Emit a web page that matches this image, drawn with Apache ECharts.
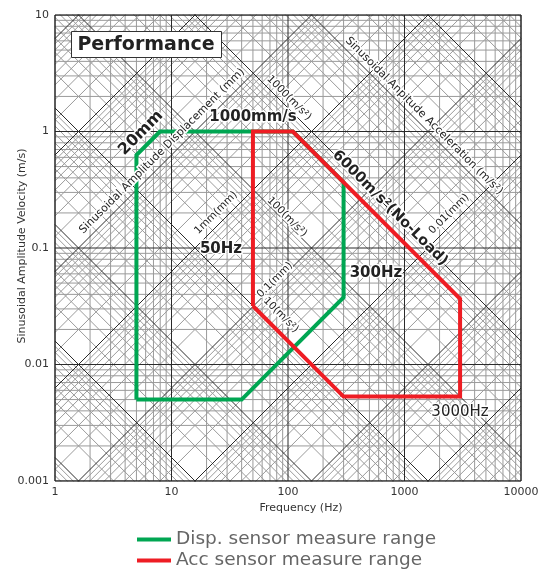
<!DOCTYPE html>
<html><head><meta charset="utf-8">
<script src="https://cdn.jsdelivr.net/npm/echarts@6/dist/echarts.min.js"></script>
<style>html,body{margin:0;padding:0;background:#fff}#main{width:547px;height:569px}</style>
</head><body><div id="main"></div>
<script>
// ---- data ----
const freqTickValues = [1, 10, 100, 1000, 10000];
const freqTickLabels = ['1', '10', '100', '1000', '10000'];
const velTickValues = [0.001, 0.01, 0.1, 1, 10];
const velTickLabels = ['0.001', '0.01', '0.1', '1', '10'];

// Disp. sensor measure range polygon (Hz, m/s)
const dispFreq = [5, 40, 300, 300, 110, 50, 7.96, 5, 5];
const dispVel  = [0.005, 0.005, 0.0377, 0.367, 1, 1, 1, 0.628, 0.005];
// Acc sensor measure range polygon (Hz, m/s)
const accFreq = [50, 50, 110, 3000, 3000, 300, 50];
const accVel  = [0.0318, 1, 1, 0.0367, 0.0053, 0.0053, 0.0318];

const seriesNames = ['Disp. sensor measure range', 'Acc sensor measure range'];

// annotation anchors (Hz, m/s)
const noteText = ['Sinusoidal Amplitude Displacement (mm)', 'Sinusoidal Anpitude Acceleration (m/s²)',
  '1000(m/s²)', '100(m/s²)', '10(m/s²)', '0.1(mm)', '1mm(mm)', '0.01(mm)',
  '20mm', '1000mm/s', '6000m/s²(No-Load)', '50Hz', '300Hz', '3000Hz'];
const noteFreq = [8.29, 1469, 102, 98, 87, 77.3, 24.1, 2410, 5.47, 50.1, 751, 26.6, 569, 2995];
const noteVel  = [0.68, 1.36, 1.94, 0.1846, 0.0266, 0.0531, 0.2, 0.196, 0.97, 1.33, 0.22, 0.098, 0.061, 0.00391];

// ---- styles ----
const FONT = '"DejaVu Sans", sans-serif';
const GREEN = '#00a652', RED = '#ee1d24';
const noteStyle = [
  {size: 11, weight: 'normal', rot: 45},
  {size: 11, weight: 'normal', rot: -45},
  {size: 10.5, weight: 'normal', rot: -45},
  {size: 10.5, weight: 'normal', rot: -45},
  {size: 10.5, weight: 'normal', rot: -45},
  {size: 10.5, weight: 'normal', rot: 45},
  {size: 10.5, weight: 'normal', rot: 45},
  {size: 10.5, weight: 'normal', rot: 45},
  {size: 16, weight: 'bold', rot: 45},
  {size: 15, weight: 'bold', rot: 0},
  {size: 14.5, weight: 'bold', rot: -45},
  {size: 15, weight: 'bold', rot: 0},
  {size: 15, weight: 'bold', rot: 0},
  {size: 15, weight: 'normal', rot: 0}
];

const FMIN = 1, FMAX = 10000, VMIN = 0.001, VMAX = 10;
const series = [];
function gridLine(pts, color, z) {
  series.push({type: 'line', data: pts, symbol: 'none', silent: true, clip: true, z: z,
    lineStyle: {color: color, width: 1}, animation: false, legendHoverLink: false});
}
const GRAY = '#9a9a9a', DARK = '#2a2a2a';
// gray vertical / horizontal
for (let k = 0; k < 4; k++) for (let m = 2; m <= 9; m++) {
  const f = m * Math.pow(10, k);
  gridLine([[f, VMIN], [f, VMAX]], GRAY, 1);
}
for (let k = -3; k < 1; k++) for (let m = 2; m <= 9; m++) {
  const v = m * Math.pow(10, k);
  gridLine([[FMIN, v], [FMAX, v]], GRAY, 1);
}
// diagonals: displacement d (m): v = 2*pi*f*d ; acceleration a: v = a/(2*pi*f)
const TP = 2 * Math.PI;
for (let pass = 0; pass < 2; pass++) {
  for (let k = -9; k <= 0; k++) for (let m = 1; m <= 9; m++) {
    if ((m === 1) !== (pass === 1)) continue;
    const d = m * Math.pow(10, k);
    gridLine([[FMIN, TP * FMIN * d], [FMAX, TP * FMAX * d]], pass ? DARK : GRAY, pass ? 3 : 2);
  }
  for (let k = -3; k <= 5; k++) for (let m = 1; m <= 9; m++) {
    if ((m === 1) !== (pass === 1)) continue;
    const a = m * Math.pow(10, k);
    gridLine([[FMIN, a / (TP * FMIN)], [FMAX, a / (TP * FMAX)]], pass ? DARK : GRAY, pass ? 3 : 2);
  }
}
// decade lines
for (const f of freqTickValues) gridLine([[f, VMIN], [f, VMAX]], DARK, 3);
for (const v of velTickValues) gridLine([[FMIN, v], [FMAX, v]], DARK, 3);

series.push({name: seriesNames[0], type: 'line', data: dispFreq.map((f, i) => [f, dispVel[i]]),
  symbol: 'none', z: 5, color: GREEN, lineStyle: {color: GREEN, width: 4, join: 'miter'}, animation: false});
series.push({name: seriesNames[1], type: 'line', data: accFreq.map((f, i) => [f, accVel[i]]),
  symbol: 'none', z: 6, color: RED, lineStyle: {color: RED, width: 4, join: 'miter'}, animation: false});

function lbl(list, values) {
  return function (v) {
    const e = Math.round(Math.log10(v));
    const i = values.findIndex(t => Math.round(Math.log10(t)) === e);
    return i >= 0 ? list[i] : '';
  };
}

const chart = echarts.init(document.getElementById('main'), null, {renderer: 'canvas'});
chart.setOption({
  animation: false,
  backgroundColor: '#fff',
  grid: {left: 55, top: 15, width: 466, height: 466, containLabel: false, outerBoundsMode: 'none',
    show: true, borderColor: '#222', borderWidth: 1, backgroundColor: 'transparent', z: 10},
  xAxis: {type: 'log', logBase: 10, min: FMIN, max: FMAX,
    axisLine: {show: false}, axisTick: {show: false}, splitLine: {show: false},
    axisLabel: {color: '#333', fontSize: 11, fontFamily: FONT, margin: 6, formatter: lbl(freqTickLabels, freqTickValues)}},
  yAxis: {type: 'log', logBase: 10, min: VMIN, max: VMAX,
    axisLine: {show: false}, axisTick: {show: false}, splitLine: {show: false},
    axisLabel: {color: '#333', fontSize: 11, fontFamily: FONT, margin: 6, formatter: lbl(velTickLabels, velTickValues)}},
  legend: {data: seriesNames, orient: 'vertical', left: 137, top: 530, width: 380, height: 80, padding: 0, icon: 'rect',
    itemWidth: 34, itemHeight: 4, itemGap: 2,
    textStyle: {color: '#666', fontSize: 18.5, fontFamily: FONT, lineHeight: 19}},
  series: series
});

const graphics = [];
graphics.push({type: 'rect', shape: {x: 71.5, y: 31.5, width: 150, height: 26}, style: {fill: '#fff', stroke: '#333', lineWidth: 1}, z: 100});
graphics.push({type: 'text', x: 146, y: 45, z: 101, style: {text: 'Performance', font: 'bold 19px ' + FONT, fill: '#222',
  align: 'center', verticalAlign: 'middle', textAlign: 'center', textVerticalAlign: 'middle'}});
graphics.push({type: 'text', x: 301, y: 508, z: 101, style: {text: 'Frequency (Hz)', font: '11px ' + FONT, fill: '#333',
  align: 'center', verticalAlign: 'middle', textAlign: 'center', textVerticalAlign: 'middle'}});
graphics.push({type: 'text', x: 22, y: 246, rotation: Math.PI / 2, z: 101, style: {text: 'Sinusoidal Amplitude Velocity (m/s)', font: '11px ' + FONT, fill: '#333',
  align: 'center', verticalAlign: 'middle', textAlign: 'center', textVerticalAlign: 'middle'}});
noteText.forEach((t, i) => {
  const p = chart.convertToPixel({gridIndex: 0}, [noteFreq[i], noteVel[i]]);
  const s = noteStyle[i];
  graphics.push({type: 'text', x: p[0], y: p[1], rotation: s.rot * Math.PI / 180, z: 100,
    style: {text: t, font: s.weight + ' ' + s.size + 'px ' + FONT, fill: '#222', stroke: '#fff', lineWidth: 3,
      align: 'center', verticalAlign: 'middle', textAlign: 'center', textVerticalAlign: 'middle'}});
});
chart.setOption({graphic: graphics});
</script></body></html>
